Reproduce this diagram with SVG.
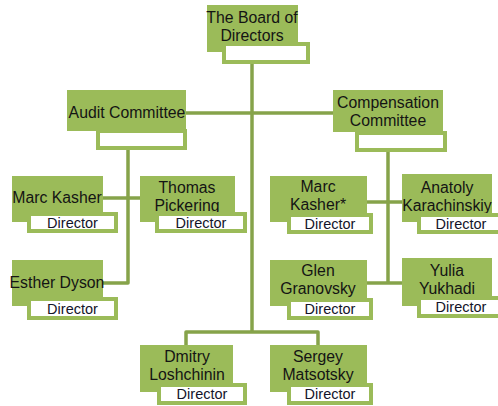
<svg xmlns="http://www.w3.org/2000/svg" width="498" height="406" viewBox="0 0 498 406">
<style>
.box{fill:#9bbb59}
.lab{fill:#ffffff;stroke:#9bbb59;stroke-width:4}
.t{font-family:"Liberation Sans",Arial,sans-serif;font-size:15.8px;fill:#141414;text-anchor:middle}
.d{font-family:"Liberation Sans",Arial,sans-serif;font-size:14.5px;fill:#14142a;text-anchor:middle}
.c{fill:none;stroke:#86a34a;stroke-width:3.5;stroke-linejoin:round}
</style>
<rect width="498" height="406" fill="#ffffff"/>
<g id="connectors">
<path class="c" d="M252 64V332"/>
<path class="c" d="M186 113H333"/>
<path class="c" d="M128 150V283H103"/>
<path class="c" d="M103 198H140"/>
<path class="c" d="M388 152V283"/>
<path class="c" d="M367 283H402"/>
<path class="c" d="M367 202H402"/>
<path class="c" d="M186 345V332H318V345"/>
</g>
<g id="board">
<rect class="box" x="207" y="5" width="91" height="47"/>
<text class="t" x="252" y="23">The Board of</text>
<text class="t" x="252" y="41">Directors</text>
<rect class="lab" x="224" y="44" width="84" height="18"/>
</g>
<g id="audit">
<rect class="box" x="67" y="90" width="119" height="41"/>
<text class="t" x="127" y="118">Audit Committee</text>
<rect class="lab" x="98" y="131" width="87" height="17"/>
</g>
<g id="compensation">
<rect class="box" x="333" y="90" width="110" height="42"/>
<text class="t" x="388" y="108">Compensation</text>
<text class="t" x="388" y="126">Committee</text>
<rect class="lab" x="357" y="133" width="88" height="17"/>
</g>
<g id="marc-kasher">
<rect class="box" x="12" y="176" width="91" height="46"/>
<text class="t" x="57" y="203">Marc Kasher</text>
<rect class="lab" x="29" y="214" width="87" height="17"/>
<text class="d" x="72.5" y="228">Director</text>
</g>
<g id="thomas-pickering">
<rect class="box" x="140" y="176" width="95" height="46"/>
<text class="t" x="187" y="193">Thomas</text>
<text class="t" x="187" y="211">Pickering</text>
<rect class="lab" x="157" y="214" width="88" height="17"/>
<text class="d" x="201" y="228">Director</text>
</g>
<g id="marc-kasher-star">
<rect class="box" x="270" y="176" width="97" height="46"/>
<text class="t" x="318" y="192">Marc</text>
<text class="t" x="318" y="210">Kasher*</text>
<rect class="lab" x="289" y="215" width="82" height="17"/>
<text class="d" x="330" y="229">Director</text>
</g>
<g id="anatoly-karachinskiy">
<rect class="box" x="402" y="174" width="90" height="48"/>
<text class="t" x="447" y="193">Anatoly</text>
<text class="t" x="447" y="211">Karachinskiy</text>
<rect class="lab" x="419" y="215" width="84" height="17"/>
<text class="d" x="461" y="229">Director</text>
</g>
<g id="esther-dyson">
<rect class="box" x="12" y="260" width="91" height="46"/>
<text class="t" x="57" y="288">Esther Dyson</text>
<rect class="lab" x="29" y="299" width="87" height="19"/>
<text class="d" x="72.5" y="314">Director</text>
</g>
<g id="glen-granovsky">
<rect class="box" x="270" y="260" width="97" height="46"/>
<text class="t" x="318" y="276">Glen</text>
<text class="t" x="318" y="294">Granovsky</text>
<rect class="lab" x="289" y="300" width="82" height="18"/>
<text class="d" x="330" y="314">Director</text>
</g>
<g id="yulia-yukhadi">
<rect class="box" x="402" y="258" width="90" height="48"/>
<text class="t" x="447" y="276">Yulia</text>
<text class="t" x="447" y="294">Yukhadi</text>
<rect class="lab" x="419" y="298" width="84" height="18"/>
<text class="d" x="461" y="312">Director</text>
</g>
<g id="dmitry-loshchinin">
<rect class="box" x="140" y="345" width="93" height="47"/>
<text class="t" x="187" y="362">Dmitry</text>
<text class="t" x="187" y="380">Loshchinin</text>
<rect class="lab" x="159" y="385" width="86" height="18"/>
<text class="d" x="202" y="399">Director</text>
</g>
<g id="sergey-matsotsky">
<rect class="box" x="270" y="345" width="97" height="47"/>
<text class="t" x="318" y="362">Sergey</text>
<text class="t" x="318" y="380">Matsotsky</text>
<rect class="lab" x="289" y="385" width="82" height="18"/>
<text class="d" x="330" y="399">Director</text>
</g>
</svg>
